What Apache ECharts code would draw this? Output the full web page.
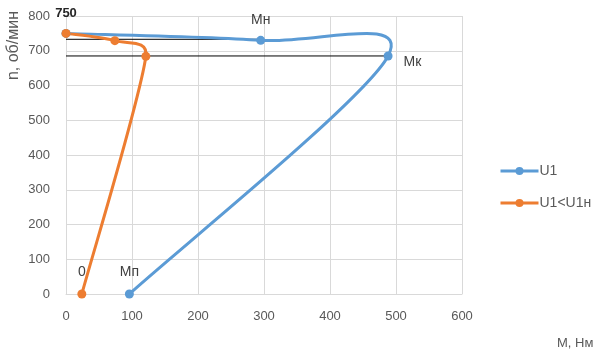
<!DOCTYPE html>
<html><head><meta charset="utf-8">
<script src="https://cdn.jsdelivr.net/npm/echarts@6/dist/echarts.min.js"></script>
<style>html,body{margin:0;padding:0;background:#fff}#c{width:604px;height:356px}</style>
</head><body><div id="c"></div>
<script>
const xTicks = [0,100,200,300,400,500,600];
const yTicks = [0,100,200,300,400,500,600,700,800];
const u1Name = 'U1';
const u1M = [0, 295, 488, 96];
const u1n = [750, 730, 685, 0];
const u1Labels = ['750', 'Мн', 'Мк', 'Мп'];
const u2Name = 'U1<U1н';
const u2M = [0, 74, 121, 24];
const u2n = [750, 729, 684, 0];
const u2Labels = ['', '', '', '0'];
const refLine1M = [0, 295];
const refLine1n = [733, 733];
const refLine2M = [0, 486];
const refLine2n = [685, 685];

const blue = '#5b9bd5', orange = '#ed7d31';
const font = 'Liberation Sans, Arial, sans-serif';
const labelPos = {
  '750': {position: 'top', offset: [0, -4], color: '#262626', fontWeight: 'bold', fontSize: 13},
  'Мн': {position: 'top', offset: [0, -4]},
  'Мк': {position: 'right', offset: [6, 6]},
  'Мп': {position: 'top', offset: [0, -5]},
  '0': {position: 'top', offset: [0, -5]}
};
function pts(xs, ys, labels) {
  return xs.map((x, i) => {
    const lab = labels[i];
    const item = {value: [x, ys[i]]};
    if (lab) {
      const p = labelPos[lab];
      item.label = Object.assign({show: true, formatter: lab, fontSize: 14, color: '#404040', fontFamily: font}, p);
    }
    return item;
  });
}
function plain(xs, ys) { return xs.map((x, i) => [x, ys[i]]); }

// Excel-style smoothed scatter line: each segment drawn as a Bezier curve
// between consecutive data points, computed in pixel space from api.coord.
function smoothSegments(xs, ys, color) {
  return function (params, api) {
    const i = params.dataIndex;
    if (i >= xs.length - 1) return null;
    const P = xs.map((x, k) => api.coord([x, ys[k]]));
    const p0 = P[Math.max(i - 1, 0)], p1 = P[i], p2 = P[i + 1], p3 = P[Math.min(i + 2, P.length - 1)];
    const segLen = Math.hypot(p2[0] - p1[0], p2[1] - p1[1]);
    function arm(a, b) {
      let vx = (b[0] - a[0]) / 6, vy = (b[1] - a[1]) / 6;
      const L = Math.hypot(vx, vy);
      const lim = segLen / 2;
      if (L > lim && L > 0) { vx *= lim / L; vy *= lim / L; }
      return [vx, vy];
    }
    const a1 = arm(p0, p2), a2 = arm(p1, p3);
    return {
      type: 'bezierCurve',
      shape: {x1: p1[0], y1: p1[1], x2: p2[0], y2: p2[1],
        cpx1: p1[0] + a1[0], cpy1: p1[1] + a1[1], cpx2: p2[0] - a2[0], cpy2: p2[1] - a2[1]},
      style: {stroke: color, lineWidth: 3, fill: null, lineCap: 'round'}
    };
  };
}

const chart = echarts.init(document.getElementById('c'), null, {renderer: 'canvas'});
chart.setOption({
  animation: false,
  grid: {left: 66, right: 142, top: 16, bottom: 62},
  xAxis: {type: 'value', min: 0, max: 600, interval: 100,
    axisLine: {show: true, lineStyle: {color: '#d9d9d9'}}, axisTick: {show: false},
    axisLabel: {color: '#595959', fontSize: 13, margin: 16, fontFamily: font},
    splitLine: {lineStyle: {color: '#d9d9d9'}}},
  yAxis: {type: 'value', min: 0, max: 800, interval: 100,
    axisLine: {show: false}, axisTick: {show: false},
    axisLabel: {color: '#595959', fontSize: 13, margin: 16, fontFamily: font},
    splitLine: {lineStyle: {color: '#d9d9d9'}}},
  legend: {orient: 'vertical', left: 494, top: 159, itemGap: 18, itemWidth: 38, itemHeight: 10,
    data: [
      {name: u1Name, lineStyle: {opacity: 1, width: 3, color: blue}},
      {name: u2Name, lineStyle: {opacity: 1, width: 3, color: orange}}
    ],
    textStyle: {color: '#595959', fontSize: 14, fontFamily: font, padding: [0, 0, 0, -4]}},
  graphic: [
    {type: 'text', left: 6, top: 11, rotation: Math.PI/2, style: {text: 'n, об/мин', fill: '#595959', font: '16px ' + font}},
    {type: 'text', left: 557, top: 337, style: {text: 'М, Нм', fill: '#595959', font: '13px ' + font}}
  ],
  series: [
    {name: 'ref1', type: 'line', data: plain(refLine1M, refLine1n), symbol: 'none', lineStyle: {color: '#000', width: 1}, z: 1, silent: true},
    {name: 'ref2', type: 'line', data: plain(refLine2M, refLine2n), symbol: 'none', lineStyle: {color: '#000', width: 1}, z: 1, silent: true},
    {name: u1Name + '_curve', type: 'custom', renderItem: smoothSegments(u1M, u1n, blue), data: plain(u1M, u1n),
      encode: {x: 0, y: 1}, z: 2, silent: true, clip: false},
    {name: u2Name + '_curve', type: 'custom', renderItem: smoothSegments(u2M, u2n, orange), data: plain(u2M, u2n),
      encode: {x: 0, y: 1}, z: 3, silent: true, clip: false},
    {name: u1Name, type: 'line', data: pts(u1M, u1n, u1Labels), color: blue,
      symbol: 'circle', symbolSize: 9, lineStyle: {width: 3, color: blue, opacity: 0}, itemStyle: {color: blue}, z: 4},
    {name: u2Name, type: 'line', data: pts(u2M, u2n, u2Labels), color: orange,
      symbol: 'circle', symbolSize: 9, lineStyle: {width: 3, color: orange, opacity: 0}, itemStyle: {color: orange}, z: 5}
  ]
});
</script></body></html>
